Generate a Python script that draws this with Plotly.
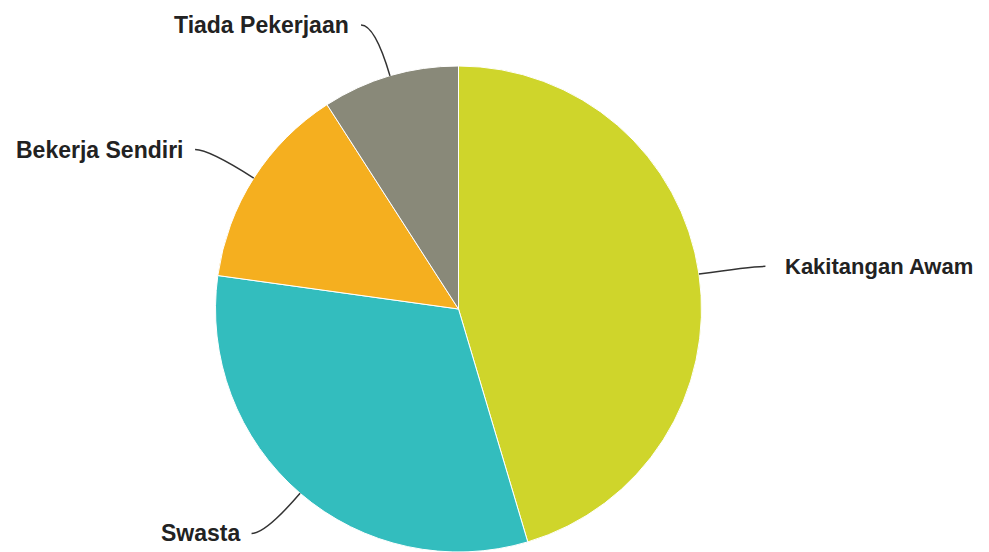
import math

import plotly.graph_objects as go

# Data (percent shares)
labels = ["Kakitangan Awam", "Swasta", "Bekerja Sendiri", "Tiada Pekerjaan"]
values = [45.4, 31.8, 13.7, 9.1]
colors = ["#CFD52B", "#33BDBE", "#F5AF1F", "#898979"]

W, H = 989, 552
BODY = 8                      # default page body margin offsets the figure
CX, CY, R = 458.5 - BODY, 309.0 - BODY, 243.0   # pie centre / radius in figure pixels
RADIAL = 53     # leader line radial length
HORIZ = 14      # leader line horizontal tail
GAP_R, GAP_L = 18, 10   # gap between tail end and label text


def to_paper(px, py):
    return px / W, 1 - py / H


fig = go.Figure(
    go.Pie(
        labels=labels, values=values, sort=False, direction="clockwise", rotation=0,
        marker=dict(colors=colors, line=dict(color="white", width=1)),
        textinfo="none", hoverinfo="label+percent", showlegend=False,
        domain=dict(x=[(CX - R) / W, (CX + R) / W], y=[1 - (CY + R) / H, 1 - (CY - R) / H]),
    )
)

# Leader lines + outside labels, derived from slice mid-angles
total = sum(values)
shapes, annotations = [], []
cum = 0.0
for lab, val in zip(labels, values):
    mid = (cum + val / 2) / total * 2 * math.pi
    cum += val
    ux, uy = math.sin(mid), -math.cos(mid)
    ex, ey = CX + R * ux, CY + R * uy
    bx, by = ex + RADIAL * ux, ey + RADIAL * uy
    side = 1 if ux >= 0 else -1
    lx, ly = bx + side * HORIZ, by
    p0, p1, p2 = to_paper(ex, ey), to_paper(bx, by), to_paper(lx, ly)
    shapes.append(dict(
        type="path", xref="paper", yref="paper",
        path=f"M {p0[0]},{p0[1]} Q {p1[0]},{p1[1]} {p2[0]},{p2[1]}",
        line=dict(color="#333333", width=1.5),
    ))
    annotations.append(dict(
        x=p2[0], y=p2[1], xref="paper", yref="paper", showarrow=False,
        text=f"<b>{lab}</b>", xanchor="left" if side > 0 else "right", yanchor="middle",
        xshift=GAP_R if side > 0 else -GAP_L,
        font=dict(family="Liberation Sans, Arial", size=22 if side > 0 else 23, color="#222222"),
    ))

fig.update_layout(
    width=W, height=H, margin=dict(l=0, r=0, t=0, b=0),
    paper_bgcolor="white", plot_bgcolor="white",
    shapes=shapes, annotations=annotations,
)

fig.write_html("out.html")
